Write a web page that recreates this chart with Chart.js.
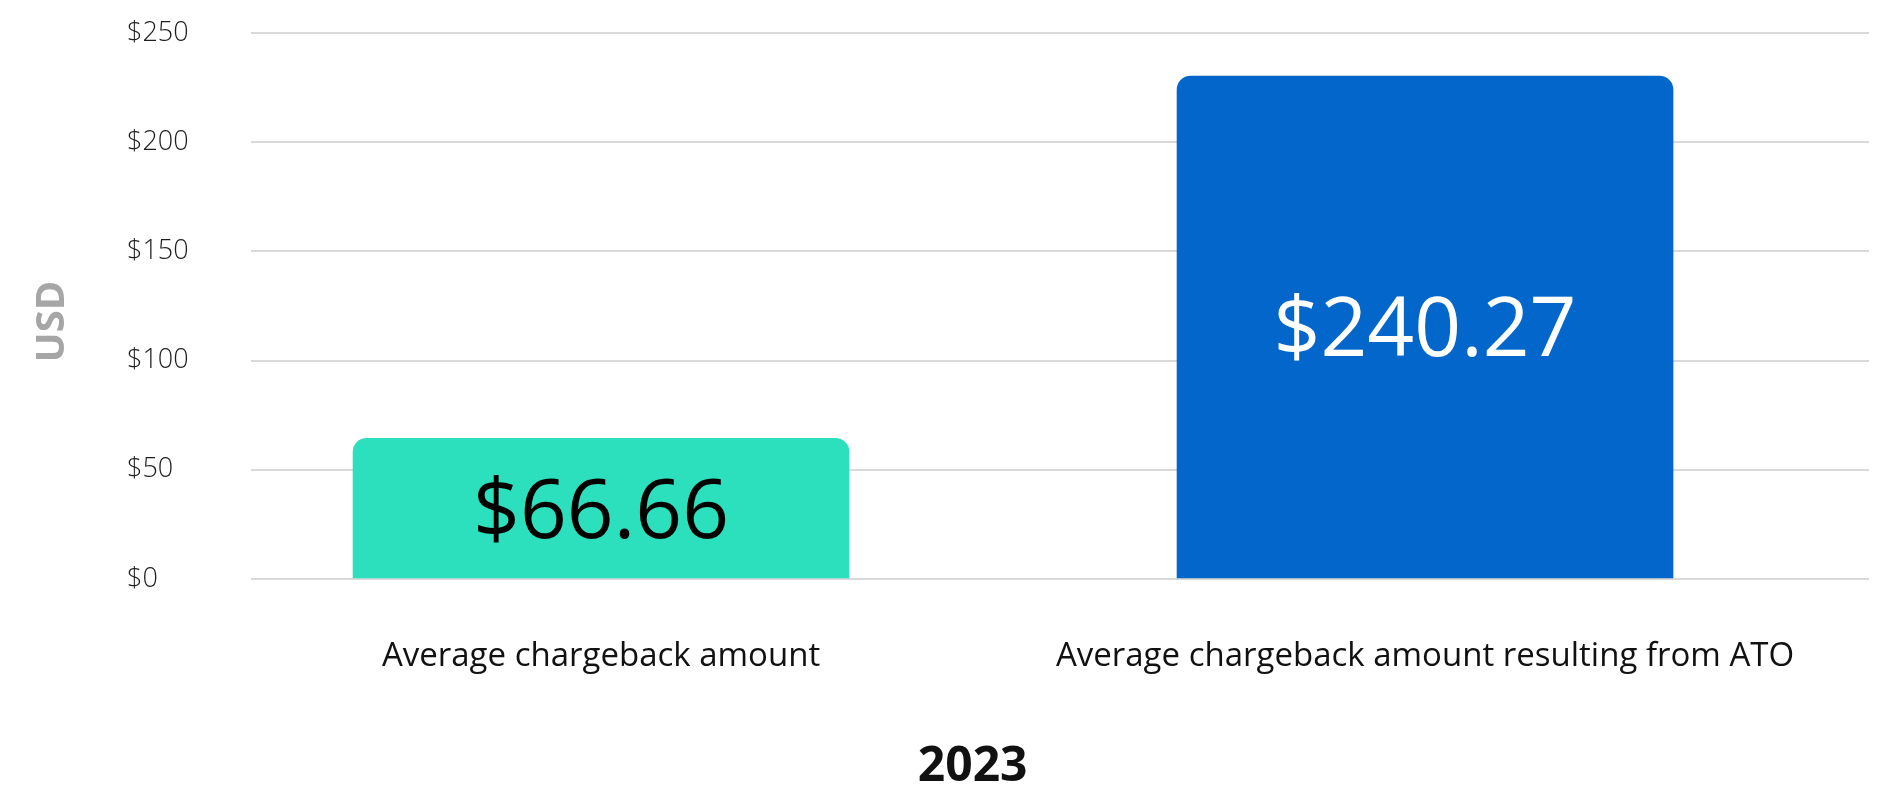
<!DOCTYPE html>
<html>
<head>
<meta charset="utf-8">
<title>Average chargeback amount 2023</title>
<script src="https://cdn.jsdelivr.net/npm/chart.js@4.4.0/dist/chart.umd.min.js"></script>
<style>
  html, body { margin: 0; padding: 0; background: #fff; }
  canvas { display: block; }
</style>
</head>
<body>
<canvas id="chargebackChart" width="1888" height="787"></canvas>
<script>
// data
const categories = ['Average chargeback amount', 'Average chargeback amount resulting from ATO'];
const barValues = [64.4, 230.3];          // bar heights as drawn against the axis
const valueLabels = ['$66.66', '$240.27']; // printed inside the bars
const barColors = ['#2de0bd', '#0266ca'];
const labelColors = ['#000000', '#ffffff'];
const yTicks = [0, 50, 100, 150, 200, 250];
const yearLabel = '2023';

const FONT = "'Open Sans', 'Noto Sans', sans-serif";

// value text centred inside each bar
const barLabels = {
  id: 'barLabels',
  afterDatasetsDraw(chart) {
    const ctx = chart.ctx;
    const meta = chart.getDatasetMeta(0);
    ctx.save();
    ctx.font = '400 82px ' + FONT;
    ctx.textAlign = 'center';
    ctx.textBaseline = 'middle';
    meta.data.forEach((bar, i) => {
      ctx.fillStyle = labelColors[i];
      ctx.fillText(valueLabels[i], bar.x, (bar.y + bar.base) / 2 + 6);
    });
    ctx.restore();
  }
};

// year caption under the category labels
const yearCaption = {
  id: 'yearCaption',
  afterDraw(chart) {
    const { ctx, chartArea } = chart;
    ctx.save();
    ctx.font = '700 48px ' + FONT;
    ctx.fillStyle = '#111111';
    ctx.textAlign = 'center';
    ctx.textBaseline = 'middle';
    ctx.fillText(yearLabel, chartArea.left + chartArea.width * 0.446, chart.height - 20);
    ctx.restore();
  }
};

new Chart(document.getElementById('chargebackChart').getContext('2d'), {
  type: 'bar',
  data: {
    datasets: [{
      data: barValues.map((v, i) => ({ x: i, y: v })),
      backgroundColor: barColors,
      borderWidth: 0,
      borderRadius: 14,
      barThickness: 496
    }]
  },
  options: {
    responsive: false,
    devicePixelRatio: 1,
    animation: false,
    layout: { padding: { top: 33, right: 19, left: 0, bottom: 0 } },
    plugins: {
      legend: { display: false },
      tooltip: { enabled: false }
    },
    scales: {
      x: {
        type: 'linear',
        offset: false,
        bounds: 'data',
        grace: 0,
        min: -0.4248,
        max: 1.5388,
        grid: { display: false, drawTicks: false, offset: false },
        border: { display: false },
        afterBuildTicks(scale) {
          scale.ticks = categories.map((c, i) => ({ value: i }));
        },
        afterFit(scale) { scale.height = 208; },
        ticks: {
          autoSkip: false,
          maxRotation: 0,
          minRotation: 0,
          padding: 58,
          color: '#111111',
          font: { family: FONT, size: 33, weight: 400 },
          callback: (v) => categories[v]
        }
      },
      y: {
        position: 'left',
        weight: 0,
        min: 0,
        max: 250,
        afterBuildTicks(scale) {
          scale.ticks = yTicks.map(v => ({ value: v }));
        },
        afterFit(scale) { scale.width = 124; },
        grid: { color: '#d9d9d9', lineWidth: 2, drawTicks: false },
        border: { display: false },
        ticks: {
          crossAlign: 'far',
          padding: 0,
          color: '#1e1e1e',
          font: { family: FONT, size: 27, weight: 300 },
          callback: (v) => '$' + v
        }
      },
      yTitle: {
        type: 'linear',
        position: 'left',
        weight: 1,
        afterFit(scale) { scale.width = 127; },
        grid: { display: false, drawTicks: false },
        border: { display: false },
        ticks: { display: false },
        title: {
          display: true,
          // trailing spaces nudge the centred word down the axis
          text: 'USD   ',
          color: '#a6a6a6',
          padding: { top: 29, bottom: 0 },
          font: { family: FONT, size: 40, weight: 700 }
        }
      }
    }
  },
  plugins: [barLabels, yearCaption]
});
</script>
</body>
</html>
